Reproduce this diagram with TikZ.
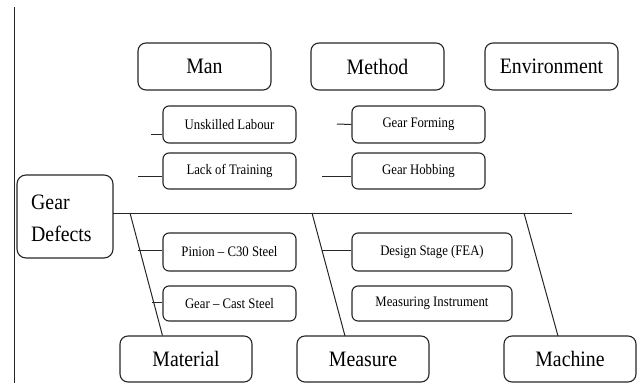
\documentclass[tikz,border=0pt]{standalone}
\usepackage{fontspec}
\setmainfont{Liberation Serif}
\newfontfamily\condfont[FakeStretch=0.9,Ligatures=TeX]{Liberation Serif}
\newfontfamily\condsmall[FakeStretch=0.88,Ligatures=TeX]{Liberation Serif}
\begin{document}
\begin{tikzpicture}[x=1pt,y=-1pt,
  bigbox/.style={draw=black!85,line width=1.1pt,rounded corners=8pt,minimum width=133pt,minimum height=47pt,inner sep=0pt,font=\condfont\fontsize{22}{26}\selectfont},
  smallbox/.style={draw=black!85,line width=1.1pt,rounded corners=6pt,minimum width=133pt,minimum height=37pt,inner sep=0pt,font=\condsmall\fontsize{14.5}{17}\selectfont},
  bone/.style={draw=black!85,line width=1pt}]
\useasboundingbox (0,0) rectangle (640,383);
\draw[bone] (14,7) -- (14,383);
% head
\node[draw=black!85,line width=1.1pt,rounded corners=9pt,minimum width=96pt,minimum height=83pt,inner sep=0pt] (GD) at (65,216.5) {};
\node[anchor=west,align=left,font=\condfont\fontsize{22}{32}\selectfont,inner sep=0pt] (GDt) at (31,218) {Gear\\Defects};
% categories
\node[bigbox] (Man) at (204.5,66.5) {Man};
\node[bigbox] (Method) at (377.5,66.5) {Method};
\node[bigbox] (Env) at (551.5,66.5) {Environment};
\node[bigbox,minimum width=132pt,minimum height=46pt] (Mat) at (186,359) {Material};
\node[bigbox,minimum width=132pt,minimum height=46pt] (Mea) at (363,359) {Measure};
\node[bigbox,minimum width=132pt,minimum height=46pt] (Mach) at (570,359) {Machine};
% causes
\node[smallbox] (UL) at (229.5,124.5) {Unskilled Labour};
\node[smallbox,minimum height=36pt] (LT) at (229.5,171) {Lack of Training};
\node[smallbox] (GF) at (418.5,124.5) {Gear Forming};
\node[smallbox,minimum height=36pt] (GH) at (418.5,171) {Gear Hobbing};
\node[smallbox,minimum height=38pt] (PC) at (229.5,252) {Pinion – C30 Steel};
\node[smallbox,minimum height=35pt] (GC) at (229.5,303.5) {Gear – Cast Steel};
\node[smallbox,minimum width=160pt,minimum height=38pt] (DS) at (432,252) {Design Stage (FEA)};
\node[smallbox,minimum width=160pt,minimum height=35pt] (MI) at (432,303.5) {Measuring Instrument};
% spine
\coordinate (s0) at (113,213);
\coordinate (s1) at (572,213);
\draw[bone] (s0) -- (s1);
% bones
\coordinate (b1) at (130,213);
\coordinate (b2) at (312,213);
\coordinate (b3) at (524,213);
\draw[bone] (b1) -- (PC.west |- Mat.north);
\draw[bone] (b2) -- (345,336);
\draw[bone] (b3) -- (558,336);
% sub connectors
\draw[bone] (151,134) -- (151,134 -| UL.west);
\draw[bone] (138,176) -- (138,176 -| LT.west);
\draw[bone] (337,124) -- (GF.west);
\draw[bone] (322,176) -- (322,176 -| GH.west);
\draw[bone] (138,250) -- (138,250 -| PC.west);
\draw[bone] (152,302) -- (152,302 -| GC.west);
\draw[bone] (322,250) -- (322,250 -| DS.west);
\end{tikzpicture}
\end{document}
